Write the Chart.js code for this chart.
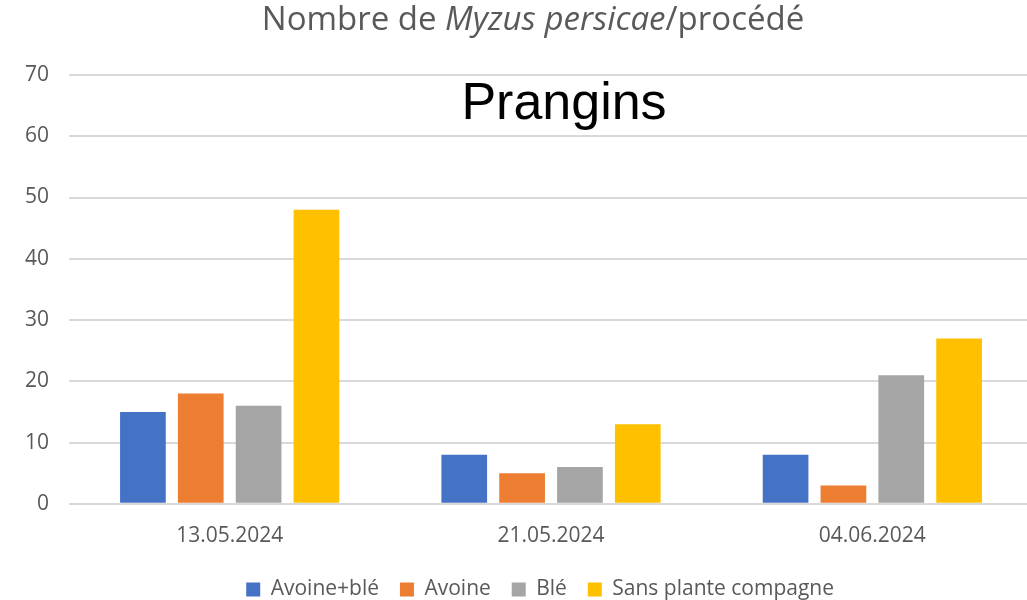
<!DOCTYPE html>
<html>
<head>
<meta charset="utf-8">
<script src="https://cdn.jsdelivr.net/npm/chart.js@4"></script>
<style>
  html, body { margin: 0; padding: 0; background: #fff; overflow: hidden; }
  #wrap { width: 1033px; height: 610px; }
</style>
</head>
<body>
<div id="wrap"><canvas id="myBarChart"></canvas></div>
<script>
// data
const dates = ['13.05.2024', '21.05.2024', '04.06.2024'];
const seriesNames = ['Avoine+blé', 'Avoine', 'Blé', 'Sans plante compagne'];
const avoineBle = [15, 8, 8];
const avoine = [18, 5, 3];
const ble = [16, 6, 21];
const sansPlante = [48, 13, 27];
const yTicks = [0, 10, 20, 30, 40, 50, 60, 70];
const colors = ['#4472C4', '#ED7D31', '#A5A5A5', '#FFC000'];

const textColor = '#595959';
const fontName = '"Open Sans", sans-serif';

// title with italic species name + the "Prangins" label inside the plot
const titlePlugin = {
    id: 'titles',
    afterDraw(chart) {
        const ctx = chart.ctx;
        const area = chart.chartArea;
        ctx.save();
        ctx.textBaseline = 'middle';
        ctx.fillStyle = textColor;
        const parts = [
            ['Nombre de ', 'normal'],
            ['Myzus persicae', 'italic'],
            ['/procédé', 'normal']
        ];
        let total = 0;
        parts.forEach(p => {
            ctx.font = p[1] + ' 33px ' + fontName;
            total += ctx.measureText(p[0]).width;
        });
        let x = 533 - total / 2;
        ctx.textAlign = 'left';
        parts.forEach(p => {
            ctx.font = p[1] + ' 33px ' + fontName;
            ctx.fillText(p[0], x, 21);
            x += ctx.measureText(p[0]).width;
        });

        ctx.fillStyle = '#000';
        ctx.font = '52px "Liberation Sans", Arial, sans-serif';
        ctx.textAlign = 'center';
        ctx.fillText('Prangins', 564, area.top + 30);
        ctx.restore();
    }
};

const barCtx = document.getElementById('myBarChart').getContext('2d');
new Chart(barCtx, {
    type: 'bar',
    data: {
        labels: dates,
        datasets: [avoineBle, avoine, ble, sansPlante].map((vals, i) => ({
            label: seriesNames[i],
            data: vals,
            backgroundColor: colors[i],
            categoryPercentage: 0.72,
            barPercentage: 0.79
        }))
    },
    options: {
        responsive: true,
        maintainAspectRatio: false,
        animation: false,
        layout: { padding: { top: 75, left: 5, right: 0, bottom: 0 } },
        plugins: {
            title: { display: false },
            tooltip: { enabled: false },
            legend: {
                position: 'bottom',
                fullSize: false,
                labels: {
                    color: textColor,
                    font: { family: fontName, size: 21 },
                    boxWidth: 14,
                    boxHeight: 14,
                    padding: 10,
                    // extra space after each entry, like the Excel legend
                    generateLabels(chart) {
                        const items = Chart.defaults.plugins.legend.labels.generateLabels(chart);
                        items.forEach((it, i) => {
                            it.text = it.text + (i < items.length - 1 ? '  ' : '    ');
                        });
                        return items;
                    }
                }
            }
        },
        scales: {
            x: {
                grid: { display: false, drawTicks: false },
                border: { display: false },
                ticks: {
                    color: textColor,
                    font: { family: fontName, size: 21 },
                    padding: 20
                }
            },
            y: {
                min: 0,
                max: 70,
                afterBuildTicks(axis) {
                    axis.ticks = yTicks.map(v => ({ value: v }));
                },
                grid: { color: '#D9D9D9', lineWidth: 2, drawTicks: false },
                border: { display: false },
                ticks: {
                    color: textColor,
                    font: { family: fontName, size: 21 },
                    padding: 20
                }
            }
        }
    },
    plugins: [titlePlugin]
});
</script>
</body>
</html>
